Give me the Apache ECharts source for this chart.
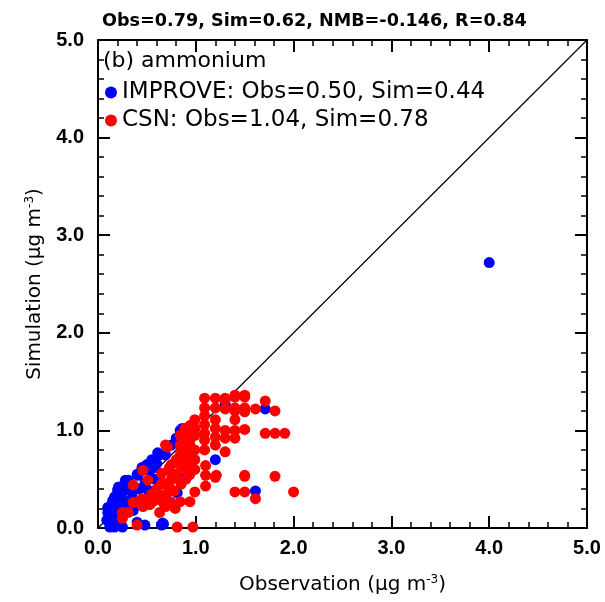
<!DOCTYPE html>
<html><head><meta charset="utf-8">
<script src="https://cdn.jsdelivr.net/npm/echarts@6/dist/echarts.min.js"></script>
<style>html,body{margin:0;padding:0;background:#fff}#c{width:605px;height:602px}</style>
</head><body><div id="c"></div>
<script>
const titleText = 'Obs=0.79, Sim=0.62, NMB=-0.146, R=0.84';
const panelLabel = '(b) ammonium';
const seriesNames = ['IMPROVE', 'CSN'];
const seriesObs = ['0.50', '1.04'];
const seriesSim = ['0.44', '0.78'];
const tickValues = [0, 1, 2, 3, 4, 5];
const oneToOne = [[0, 0], [5, 5]];

const improvePts = [
  [4.00,2.72],[1.71,1.22],[1.61,0.38],[1.20,0.70],[1.30,1.27],
  [0.86,1.02],[0.63,0.75],[0.69,0.75],[0.58,0.62],[0.53,0.59],[0.81,0.36],[0.86,0.51],[0.67,0.26],[0.67,0.04],
  [0.60,0.66],[0.45,0.62],[0.41,0.54],[0.31,0.49],[0.28,0.39],[0.20,0.39],[0.17,0.32],[0.14,0.24],[0.10,0.16],
  [0.09,0.08],[0.17,0.01],[0.25,0.01],[0.40,0.06],[0.65,0.03],[0.36,0.18],[0.26,0.27],[0.51,0.39],[0.48,0.46],[0.35,0.36],
  [0.75,0.85],[0.80,0.92],[0.55,0.70],[0.50,0.65],[0.40,0.55],[0.30,0.45],[0.22,0.35],[0.15,0.28],[0.12,0.20],
  [0.20,0.22],[0.25,0.30],[0.30,0.25],[0.18,0.12],[0.12,0.05],[0.22,0.08],[0.28,0.18],[0.35,0.30],[0.42,0.40],
  [0.58,0.50],[0.90,0.95],[0.95,1.00],[0.84,1.00],[0.61,0.77],[0.45,0.60],[0.28,0.49],[0.21,0.42],[0.10,0.21],
  [0.12,0.01],[0.48,0.03],[0.66,0.05]
];
const csnPts = [
  [1.30,1.31],[1.40,1.34],[1.50,1.34],[1.71,1.30],[1.30,1.22],[1.40,1.20],[1.50,1.19],[1.61,1.22],[1.81,1.20],
  [1.40,1.11],[1.30,1.00],[1.40,1.00],[1.50,1.01],[1.30,0.92],[1.40,0.92],[1.71,0.97],[1.81,0.97],[1.91,0.97],
  [1.30,0.78],[1.50,0.53],[1.81,0.53],
  [1.10,0.64],[1.10,0.54],[1.21,0.54],[1.50,0.54],[1.10,0.43],[1.40,0.37],[1.50,0.37],[1.61,0.30],[2.00,0.37],
  [1.09,1.33],[1.20,1.33],[1.30,1.33],[1.40,1.36],[1.50,1.36],[1.09,1.23],[1.20,1.23],[1.40,1.23],[1.50,1.23],
  [0.99,1.11],[1.09,1.15],[1.09,1.06],[1.20,1.11],[1.20,1.02],[0.94,1.00],[0.94,0.90],[1.09,0.97],[1.09,0.90],
  [1.20,0.93],[1.20,0.85],[1.09,0.80],[1.20,0.52],
  [0.84,0.95],[0.89,0.92],[0.94,0.85],[0.99,0.80],[0.84,0.85],[0.89,0.80],[0.94,0.75],[0.99,0.70],[0.84,0.75],
  [0.89,0.70],[0.94,0.65],[0.99,0.60],[0.89,0.60],[0.94,0.55],[0.84,0.65],[0.99,0.95],[0.99,1.02],[0.89,1.02],[0.94,1.05],
  [0.69,0.85],[0.99,0.37],[0.74,0.27],[0.84,0.27],[0.94,0.27],[0.79,0.20],[0.63,0.29],[0.53,0.24],[0.81,0.01],[0.97,0.01],
  [0.73,0.62],[0.66,0.46],[0.60,0.36],[0.73,0.42],[0.79,0.51],
  [0.71,0.83],[0.46,0.59],[0.36,0.44],[0.51,0.49],[0.65,0.56],[0.72,0.59],[0.41,0.27],[0.51,0.29],[0.60,0.31],
  [0.36,0.26],[0.25,0.16],[0.25,0.10],[0.31,0.16],[0.63,0.16],[0.69,0.22],[0.40,0.03],
  [0.55,0.35],[0.45,0.30],[0.60,0.40],[0.70,0.45],[0.75,0.50],[0.80,0.55],[0.65,0.45],[0.70,0.35],[0.75,0.65],[0.80,0.70],
  [0.46,0.22],[0.56,0.27],[0.85,0.45],[0.90,0.50],[0.78,0.38]
];

const FONT = 'Liberation Sans, Arial, Helvetica, sans-serif';
const WFONT = 'DejaVu Sans, Liberation Sans, sans-serif';
const chart = echarts.init(document.getElementById('c'), null, {renderer: 'canvas'});

function baseAxis(extra) {
  return Object.assign({
    type: 'value', min: 0, max: 5, interval: 1,
    axisLine: {show: true, onZero: false, lineStyle: {color: '#000', width: 2}},
    axisTick: {show: true, inside: true, length: 12, lineStyle: {color: '#000', width: 2}},
    minorTick: {show: true, splitNumber: 5, length: 6, lineStyle: {color: '#000', width: 1.5}},
    splitLine: {show: false},
  }, extra);
}
const labelStyle = {show: true, fontFamily: FONT, fontSize: 20, fontWeight: 'bold', color: '#000',
  formatter: v => tickValues.includes(v) ? v.toFixed(1) : ''};
const nameRich = {
  n: {fontFamily: WFONT, fontSize: 20, color: '#000'},
  s: {fontFamily: WFONT, fontSize: 12, color: '#000', verticalAlign: 'top', padding: [0, 0, 10, 0]}
};

const legendFmt = {};
seriesNames.forEach((n, i) => { legendFmt[n] = n + ': Obs=' + seriesObs[i] + ', Sim=' + seriesSim[i]; });

chart.setOption({
  animation: false,
  backgroundColor: '#fff',
  title: {text: titleText, left: 97, top: 7,
    textStyle: {fontFamily: WFONT, fontSize: 17.6, fontWeight: 'bold', color: '#000'}},
  graphic: [{type: 'text', left: 103, top: 50,
    style: {text: panelLabel, fontFamily: WFONT, fontSize: 22, fill: '#000'}}],
  legend: {orient: 'vertical', left: 105, top: 81, padding: 0, icon: 'circle', itemWidth: 12, itemHeight: 12,
    itemGap: 5, data: seriesNames, formatter: n => legendFmt[n],
    textStyle: {fontFamily: WFONT, fontSize: 23, lineHeight: 23, color: '#000'}},
  grid: {left: 98, right: 18, top: 40, bottom: 74},
  xAxis: [
    baseAxis({position: 'bottom', axisLabel: Object.assign({margin: 10}, labelStyle),
      name: '{n|Observation (μg m}{s|-3}{n|)}', nameLocation: 'middle', nameGap: 46,
      nameTextStyle: {rich: nameRich}}),
    baseAxis({position: 'top', axisLabel: {show: false}})
  ],
  yAxis: [
    baseAxis({position: 'left', axisLabel: Object.assign({margin: 14}, labelStyle),
      name: '{n|Simulation (μg m}{s|-3}{n|)}', nameLocation: 'middle', nameGap: 52,
      nameTextStyle: {rich: nameRich}}),
    baseAxis({position: 'right', axisLabel: {show: false}})
  ],
  series: [
    {type: 'line', data: oneToOne, symbol: 'none', silent: true, z: 1,
      lineStyle: {color: '#000', width: 1.2}},
    {name: seriesNames[0], type: 'scatter', data: improvePts, symbolSize: 11, z: 2,
      itemStyle: {color: '#0000ff', opacity: 1}},
    {name: seriesNames[1], type: 'scatter', data: csnPts, symbolSize: 11, z: 3,
      itemStyle: {color: '#ff0000', opacity: 1}}
  ]
});
</script></body></html>
